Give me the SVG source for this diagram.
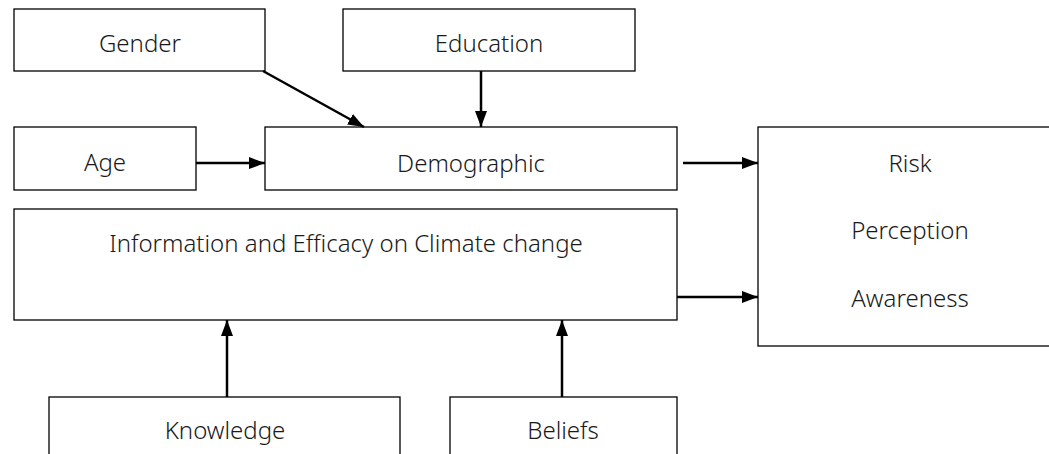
<svg xmlns="http://www.w3.org/2000/svg" width="1049" height="454" viewBox="0 0 1049 454">
<style>
.box{fill:#fff;stroke:#000;stroke-width:1.3}
.t{font-family:"Noto Sans","Open Sans",sans-serif;font-size:24px;font-weight:300;fill:#1a1a1a;text-anchor:middle}
.c{stroke:#000;stroke-width:2.5;fill:none}
</style>
<defs>
<marker id="ah" markerWidth="16" markerHeight="12" refX="16" refY="6" orient="auto" markerUnits="userSpaceOnUse">
<path d="M0,0 L16,6 L0,12 Z" fill="#000"/>
</marker>
</defs>
<rect width="1049" height="454" fill="#fff"/>
<g id="gender"><rect class="box" x="14" y="9" width="251" height="62"/><text class="t" x="140" y="52">Gender</text></g>
<g id="education"><rect class="box" x="343" y="9" width="292" height="62"/><text class="t" x="489" y="52">Education</text></g>
<g id="age"><rect class="box" x="14" y="127" width="182" height="63"/><text class="t" x="105" y="171">Age</text></g>
<g id="demographic"><rect class="box" x="265" y="127" width="412" height="63"/><text class="t" x="471" y="172">Demographic</text></g>
<g id="info"><rect class="box" x="14" y="209" width="663" height="111"/><text class="t" x="346" y="252">Information and Efficacy on Climate change</text></g>
<g id="risk"><rect class="box" x="758" y="127" width="295" height="219"/><text class="t" x="910" y="172">Risk</text><text class="t" x="910" y="239">Perception</text><text class="t" x="910" y="307">Awareness</text></g>
<g id="knowledge"><rect class="box" x="49" y="397" width="351" height="70"/><text class="t" x="225" y="439">Knowledge</text></g>
<g id="beliefs"><rect class="box" x="450" y="397" width="227" height="70"/><text class="t" x="563" y="439">Beliefs</text></g>
<g id="connectors">
<line class="c" x1="263" y1="71" x2="364" y2="127" marker-end="url(#ah)"/>
<line class="c" x1="481" y1="71" x2="481" y2="127" marker-end="url(#ah)"/>
<line class="c" x1="196" y1="163" x2="265" y2="163" marker-end="url(#ah)"/>
<line class="c" x1="683" y1="163" x2="758" y2="163" marker-end="url(#ah)"/>
<line class="c" x1="677" y1="297" x2="758" y2="297" marker-end="url(#ah)"/>
<line class="c" x1="227" y1="397" x2="227" y2="320" marker-end="url(#ah)"/>
<line class="c" x1="562" y1="397" x2="562" y2="320" marker-end="url(#ah)"/>
</g>
</svg>
